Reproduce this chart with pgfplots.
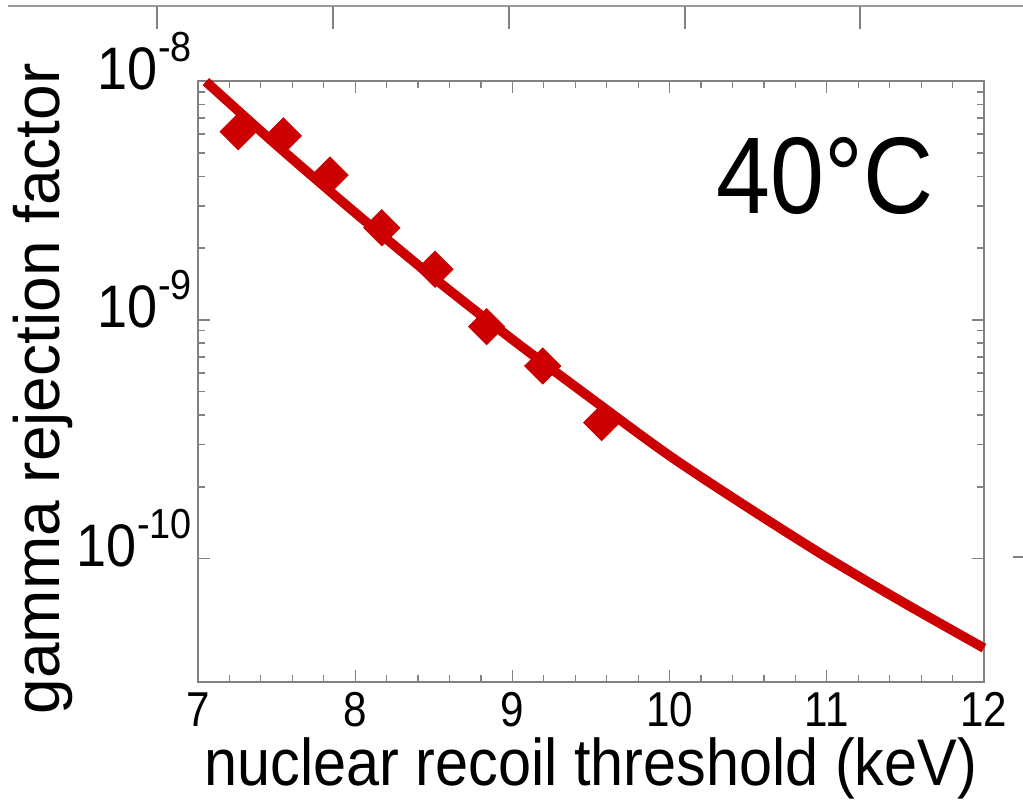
\documentclass[border=0pt]{standalone}
\usepackage{fontspec}
\setmainfont{Liberation Sans}
\usepackage{graphicx}
\usepackage{pgfplots}
\pgfplotsset{compat=1.18}
\definecolor{myred}{RGB}{204,0,0}
\definecolor{framegray}{RGB}{130,130,130}
\newcommand{\ylab}[1]{{\fontsize{30}{31}\selectfont 10\raisebox{14pt}{\fontsize{21}{22}\selectfont -#1}}}
\begin{document}
\begin{tikzpicture}
\useasboundingbox (0,0) rectangle (511.5pt,402.5pt);
\begin{axis}[
  at={(99pt,61.5pt)}, anchor=south west,
  scale only axis, width=393pt, height=300.5pt,
  xmin=7, xmax=12,
  ymode=log, ymin=3.05e-11, ymax=1e-8,
  clip=false,
  axis line style={framegray, line width=0.6pt},
  every tick/.style={framegray, line width=0.6pt},
  major tick length=6pt, minor tick length=3.5pt,
  xtick={7,8,9,10,11,12},
  xticklabels={7,8,9,10,11,12},
  minor x tick num=4,
  ytick={1e-10,1e-9,1e-8},
  yticklabels={\ylab{10},\ylab{9},\ylab{8}},
  xticklabel style={font=\fontsize{24.5}{26}\selectfont, xscale=0.86, anchor=base, yshift=-22.35pt},
  yticklabel style={anchor=base east, inner xsep=0pt, xshift=-3pt, yshift=-4pt, xscale=0.9},
  xlabel={nuclear recoil threshold (keV)},
  ylabel={gamma rejection factor},
  xlabel style={font=\fontsize{33}{35}\selectfont, xscale=0.9, at={(rel axis cs:0.5,0)}, anchor=base, yshift=-51.5pt},
  ylabel style={font=\fontsize{32}{34}\selectfont, at={(rel axis cs:-0.1756,0.488)}, anchor=base, rotate=0},
]
\addplot[myred, line width=4.8pt, smooth, no marks] coordinates {
  (7.05,9.95e-9) (7.5,5.39e-9) (8.0,2.81e-9) (8.5,1.50e-9) (9.0,8.28e-10)
  (9.5,4.70e-10) (10.0,2.70e-10) (10.5,1.637e-10) (11.0,1.014e-10)
  (11.5,6.49e-11) (12.0,4.23e-11)
};
\addplot[only marks, mark=square*, mark size=6.4pt, color=myred,
  mark options={rotate=45, fill=myred, draw=myred}] coordinates {
  (7.256,6.14e-9) (7.543,5.89e-9) (7.840,4.04e-9) (8.169,2.43e-9)
  (8.508,1.63e-9) (8.836,9.38e-10) (9.193,6.42e-10) (9.568,3.72e-10)
};
\node[font=\fontsize{54.5}{56}\selectfont, xscale=0.89, anchor=center]
  at (rel axis cs:0.7977,0.842) {40°C};
\end{axis}
\begin{scope}[x=0.5pt,y=0.5pt]
  \draw[framegray!80, line width=1pt] (8,799.3) -- (1023,799.3);
  \foreach \tx in {157,333,509,685,860} {
    \draw[framegray, line width=0.6pt] (\tx,799.3) -- (\tx,776);
  }
  \draw[framegray, line width=0.6pt] (1013,248) -- (1023,248);
\end{scope}
\end{tikzpicture}
\end{document}
